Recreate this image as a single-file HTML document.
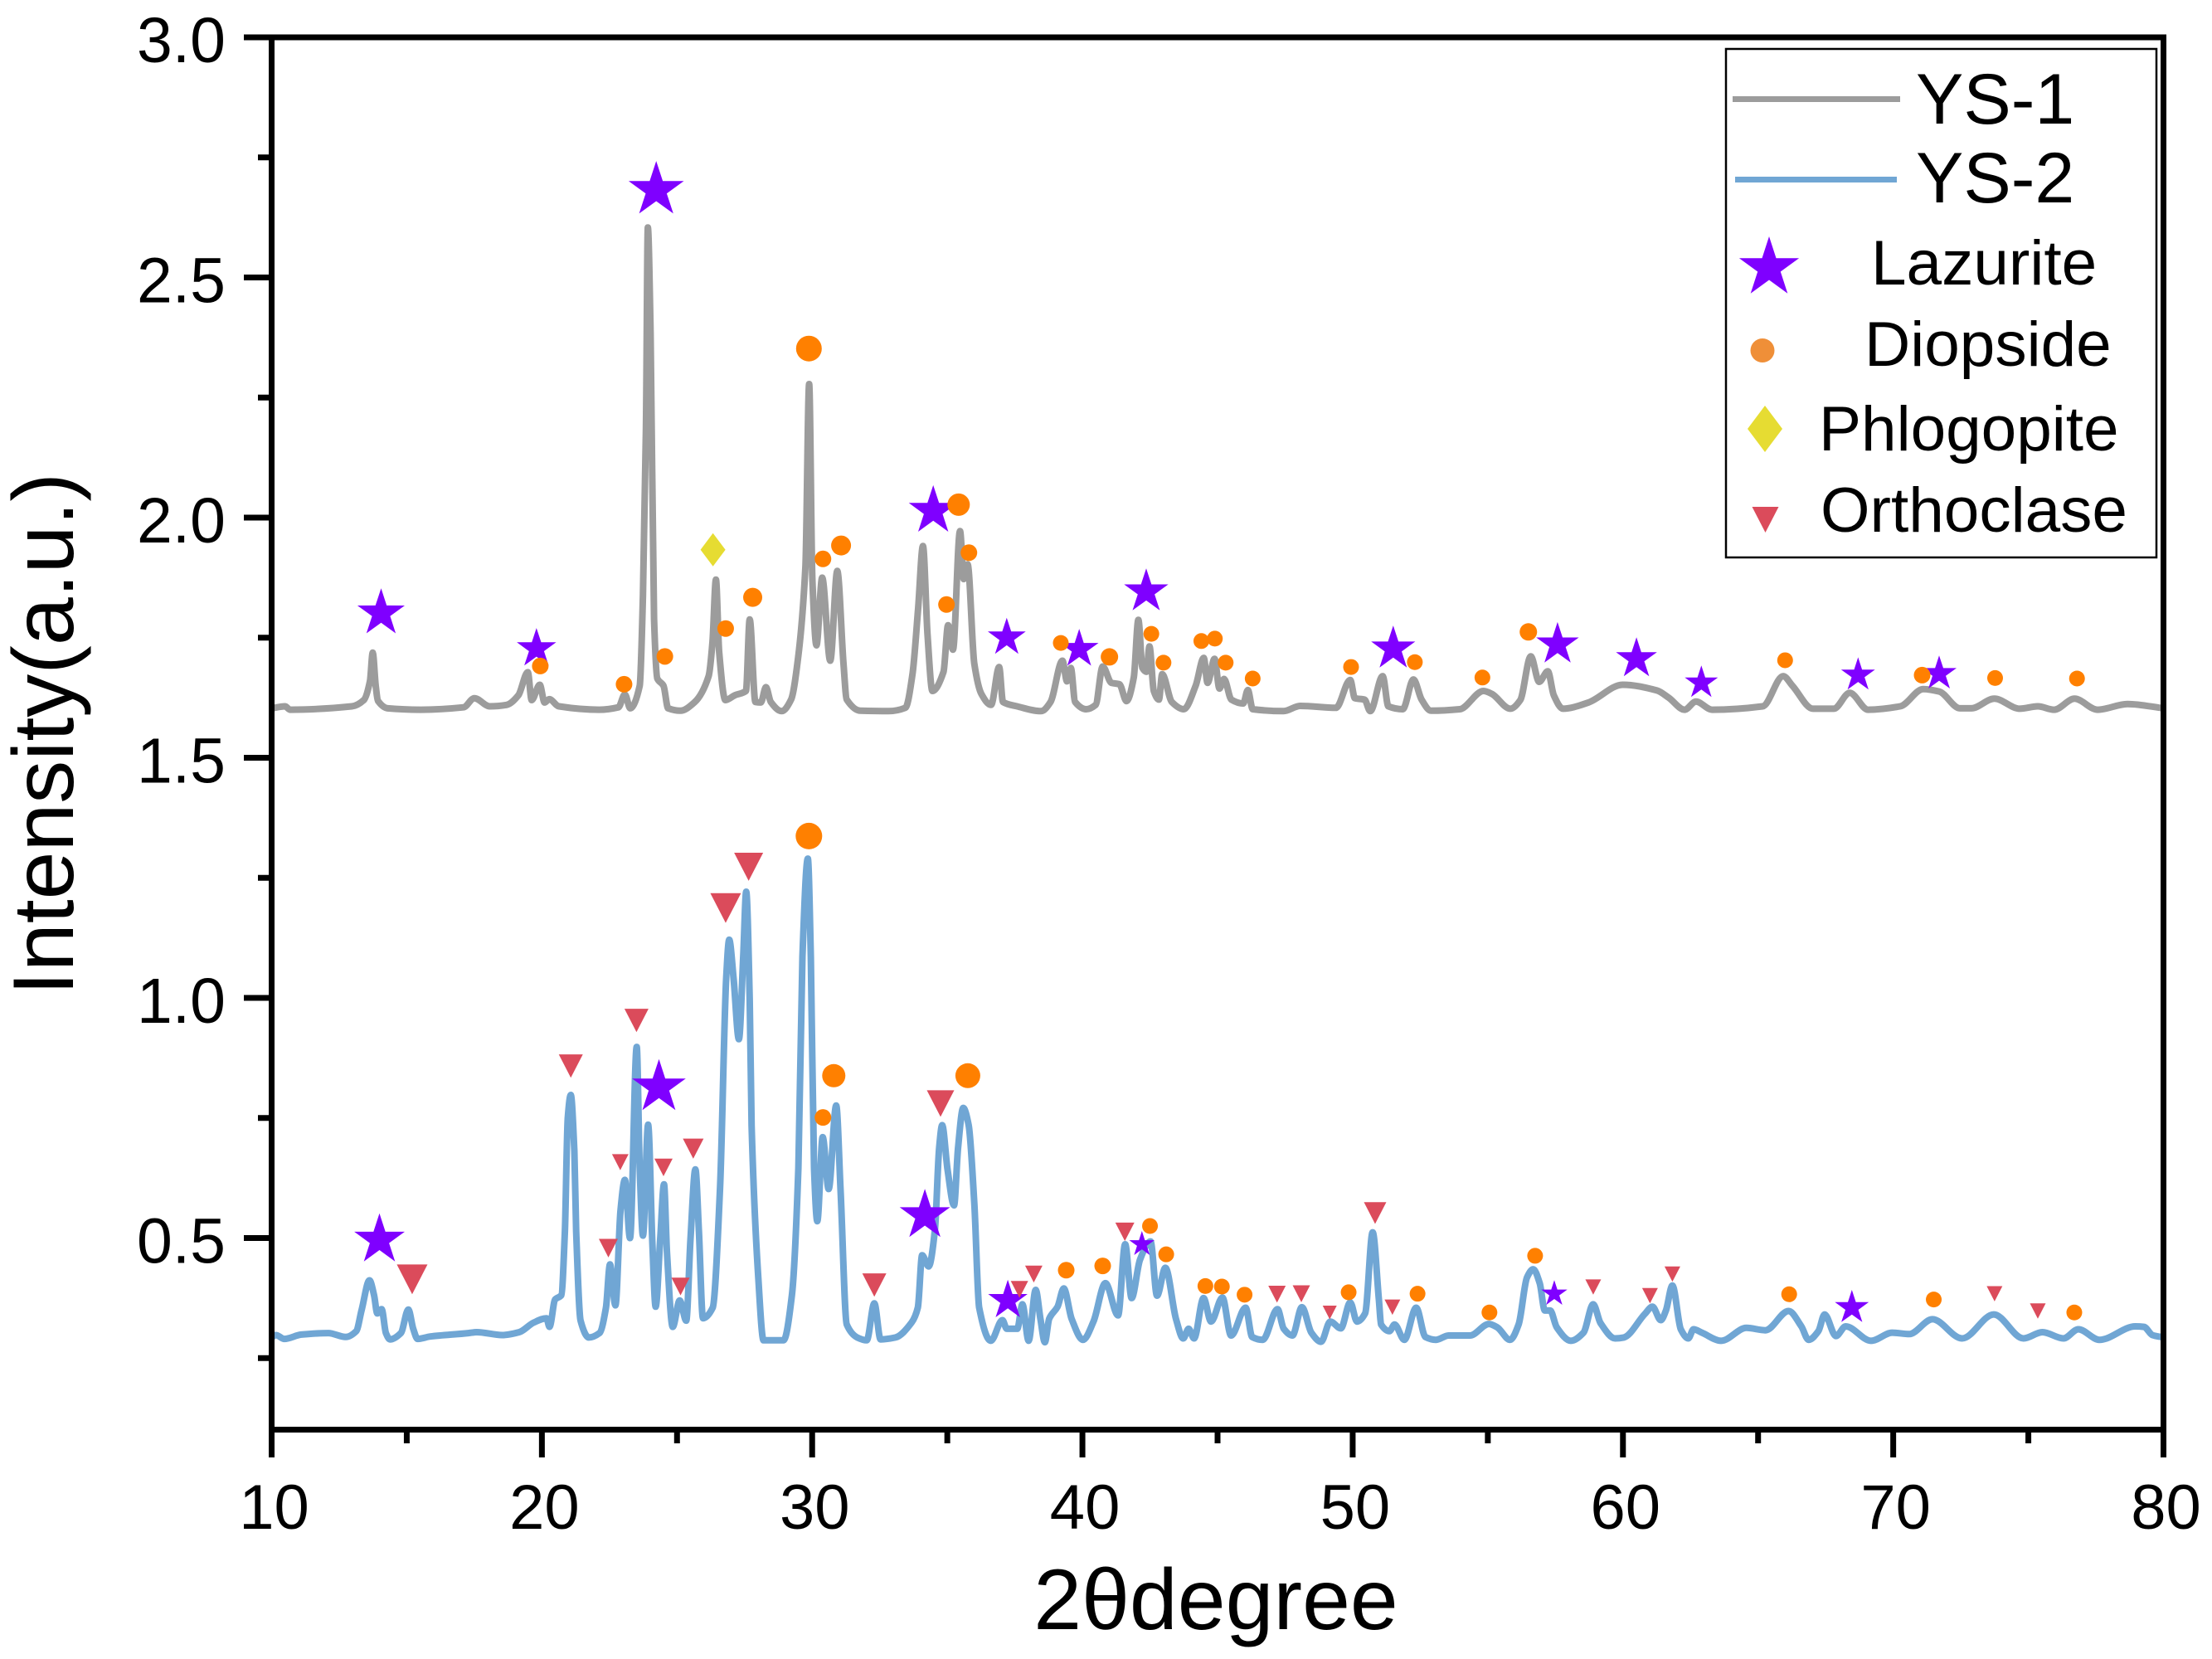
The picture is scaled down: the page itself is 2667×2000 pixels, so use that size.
<!DOCTYPE html>
<html lang="en">
<head>
<meta charset="utf-8">
<title>XRD patterns of YS-1 and YS-2</title>
<style>
html,body{margin:0;padding:0;background:#fff;}
svg{display:block;}
text{font-family:"Liberation Sans",Arial,sans-serif;fill:#000;}
</style>
</head>
<body>
<svg id="chart" xmlns="http://www.w3.org/2000/svg" width="2667" height="2000" viewBox="0 0 2667 2000">
  <rect x="0" y="0" width="2667" height="2000" fill="#fff"/>
  <g id="series"></g>
  <g id="markers"></g>
  <g id="axes"></g>
  <text x="1466" y="1964" font-size="104" text-anchor="middle">2θdegree</text>
  <text transform="translate(88,885) rotate(-90)" font-size="104" text-anchor="middle">Intensity(a.u.)</text>
  <g>
    <rect x="2081" y="59" width="519" height="613" fill="#fff" stroke="#000" stroke-width="2.5"/>
    <g>
      <rect x="2089" y="116" width="202" height="7" fill="#9c9c9c"/>
      <text x="2310" y="149" font-size="86">YS-1</text>
    </g>
    <g>
      <rect x="2092" y="213" width="195" height="7" fill="#70a6d4"/>
      <text x="2310" y="244" font-size="86">YS-2</text>
    </g>
    <g>
      <polygon id="legend-star" fill="#7f00ff" points=""/>
      <text x="2256" y="343" font-size="76.5">Lazurite</text>
    </g>
    <g>
      <circle cx="2125" cy="422.5" r="14.5" fill="#ef8f38"/>
      <text x="2248" y="441" font-size="76.5">Diopside</text>
    </g>
    <g>
      <polygon points="2128,489 2149,517 2128,545 2107,517" fill="#e6dc32"/>
      <text x="2193" y="543" font-size="76.5">Phlogopite</text>
    </g>
    <g>
      <polygon points="2112.5,611 2144.5,611 2128.5,642" fill="#db4b5b"/>
      <text x="2195" y="641" font-size="76.5">Orthoclase</text>
    </g>
  </g>
</svg>
<script>
const ys1Theta = [10,10.5,10.68,12.97,13.41,13.64,13.74,13.85,13.94,14.29,15.5,17.1,17.5,18.07,18.69,19.13,19.48,19.62,19.92,20.1,20.27,20.63,22.12,22.83,23.07,23.27,23.62,23.74,23.85,23.92,24.02,24.15,24.27,24.5,24.67,25.12,25.64,26.17,26.31,26.44,26.56,26.79,27.14,27.55,27.69,27.9,28.1,28.29,28.47,28.87,29.22,29.49,29.75,29.89,30.01,30.16,30.37,30.67,30.93,31.16,31.28,31.78,32.83,33.45,33.71,33.92,34.1,34.27,34.45,34.86,35.03,35.21,35.47,35.61,35.75,36,36.26,36.62,36.92,37.06,37.58,38.47,38.82,39.26,39.43,39.57,39.73,40.14,40.49,40.75,41.07,41.37,41.63,41.9,42.07,42.22,42.37,42.48,42.64,42.83,42.95,43.31,43.75,44.19,44.49,44.63,44.89,45.07,45.24,45.51,45.95,46.12,46.3,47.44,48.06,49.38,49.91,50.08,50.44,50.65,51.11,51.32,51.85,52.25,52.55,52.9,53.96,54.84,55.15,55.83,56.2,56.59,56.9,57.22,57.44,57.78,58.72,59.99,61.26,61.69,62.28,62.7,63.3,65.17,65.93,66.27,67.03,67.8,68.39,69.07,70.26,71.11,71.7,72.47,72.89,73.74,74.68,75.35,75.95,76.71,77.56,78.67,80];
const ys1Intensity = [1.603,1.607,1.6,1.607,1.62,1.66,1.719,1.65,1.618,1.603,1.6,1.605,1.624,1.607,1.61,1.63,1.678,1.62,1.652,1.615,1.622,1.607,1.6,1.605,1.632,1.603,1.65,1.838,2.185,2.604,2.384,1.789,1.665,1.65,1.603,1.598,1.615,1.67,1.74,1.871,1.72,1.62,1.63,1.639,1.788,1.616,1.615,1.647,1.616,1.597,1.621,1.713,1.898,2.278,1.869,1.734,1.875,1.702,1.889,1.696,1.621,1.598,1.597,1.604,1.673,1.811,1.941,1.754,1.639,1.679,1.776,1.725,1.972,1.872,1.903,1.696,1.633,1.61,1.689,1.616,1.607,1.597,1.616,1.702,1.659,1.687,1.616,1.601,1.61,1.69,1.656,1.653,1.618,1.667,1.787,1.687,1.679,1.732,1.639,1.621,1.674,1.616,1.601,1.65,1.708,1.656,1.706,1.644,1.664,1.621,1.613,1.641,1.601,1.597,1.608,1.604,1.662,1.624,1.621,1.597,1.67,1.607,1.601,1.663,1.621,1.598,1.601,1.639,1.633,1.602,1.62,1.711,1.658,1.68,1.63,1.602,1.615,1.652,1.64,1.625,1.6,1.617,1.6,1.607,1.67,1.65,1.602,1.602,1.635,1.6,1.607,1.643,1.638,1.603,1.603,1.623,1.602,1.607,1.6,1.623,1.6,1.612,1.603];

const ys2Theta = [10,10.16,10.47,11.1,12.1,12.74,13.13,13.33,13.62,13.79,13.91,14.07,14.23,14.38,14.78,15.06,15.24,15.4,15.87,17.28,17.59,18.53,19.16,19.7,20.17,20.28,20.49,20.72,20.85,20.96,21.07,21.2,21.27,21.43,21.74,22.13,22.37,22.52,22.72,22.91,23.07,23.26,23.51,23.62,23.74,23.93,24.09,24.21,24.38,24.52,24.63,24.84,25.1,25.34,25.5,25.68,25.81,25.96,26.32,26.59,26.82,26.93,27.09,27.29,27.45,27.56,27.69,27.76,28,28.2,28.94,29.25,29.49,29.64,29.84,29.95,30.07,30.19,30.39,30.61,30.89,31.05,31.28,31.67,32.02,32.3,32.53,33.08,33.68,33.91,34.07,34.31,34.54,34.7,34.81,35.01,35.25,35.4,35.59,35.79,36,36.18,36.61,37.04,37.2,37.59,37.78,38.01,38.27,38.45,38.61,38.77,39.08,39.31,39.6,40.02,40.41,40.85,41.32,41.58,41.82,42.13,42.52,42.76,43.07,43.46,43.73,43.93,44.13,44.48,44.76,45.18,45.5,46.04,46.28,46.67,47.22,47.45,47.77,48.12,48.47,48.83,49.17,49.56,49.91,50.16,50.46,50.74,50.97,51.05,51.36,51.55,51.91,52.35,52.69,53.08,53.55,54.34,55.04,55.35,55.82,56.14,56.45,56.68,56.92,57.11,57.31,57.55,58.07,58.54,58.9,59.17,59.71,60.03,60.81,61.09,61.4,61.59,61.83,62.14,62.42,62.61,62.92,63.63,64.57,65.27,66.13,66.6,66.87,67.23,67.46,67.88,68.24,69.18,69.96,70.59,71.45,72.55,73.72,74.82,75.52,76.3,76.85,77.63,78.96,79.28,79.59,80];
const ys2Intensity = [0.293,0.298,0.29,0.299,0.302,0.294,0.306,0.35,0.412,0.381,0.343,0.352,0.302,0.289,0.302,0.351,0.311,0.29,0.295,0.302,0.304,0.298,0.304,0.324,0.333,0.315,0.372,0.381,0.514,0.751,0.798,0.681,0.513,0.328,0.293,0.302,0.355,0.445,0.36,0.558,0.621,0.5,0.898,0.646,0.505,0.736,0.487,0.357,0.5,0.612,0.469,0.315,0.37,0.328,0.5,0.643,0.513,0.333,0.355,0.602,1.042,1.121,1.042,0.914,1.086,1.221,0.998,0.734,0.425,0.287,0.287,0.381,0.646,1.086,1.29,1.086,0.646,0.535,0.71,0.602,0.776,0.602,0.32,0.293,0.287,0.364,0.289,0.293,0.324,0.355,0.464,0.441,0.516,0.689,0.735,0.642,0.568,0.689,0.771,0.735,0.573,0.355,0.286,0.329,0.311,0.311,0.362,0.286,0.392,0.33,0.283,0.332,0.357,0.395,0.332,0.288,0.326,0.406,0.339,0.487,0.375,0.455,0.493,0.38,0.438,0.332,0.291,0.311,0.291,0.375,0.326,0.376,0.297,0.355,0.294,0.288,0.352,0.311,0.297,0.356,0.303,0.284,0.326,0.312,0.366,0.326,0.343,0.512,0.372,0.32,0.306,0.32,0.288,0.355,0.294,0.288,0.297,0.297,0.321,0.314,0.288,0.32,0.418,0.435,0.406,0.349,0.349,0.314,0.286,0.303,0.362,0.323,0.291,0.293,0.342,0.357,0.329,0.349,0.401,0.31,0.291,0.31,0.303,0.286,0.313,0.308,0.348,0.316,0.288,0.306,0.341,0.296,0.316,0.286,0.303,0.3,0.331,0.291,0.341,0.291,0.304,0.291,0.31,0.288,0.316,0.315,0.298,0.293];

const lazuriteTheta = [14.05,19.8,24.23,34.48,37.2,39.88,42.36,51.5,57.58,60.5,62.9,68.7,71.7,13.99,24.33,34.17,37.24,42.2,57.46,68.47];
const lazuriteIntensity = [1.801,1.727,2.682,2.014,1.75,1.726,1.846,1.727,1.736,1.706,1.656,1.672,1.675,0.496,0.814,0.547,0.37,0.487,0.384,0.355];
const diopsideTheta = [19.94,23.04,24.55,26.8,27.8,29.88,30.4,31.07,35.42,34.97,35.8,39.2,41,42.55,43,44.4,44.9,45.3,46.3,49.94,52.3,54.8,56.5,66,71.07,73.77,76.8,29.88,30.8,30.4,35.76,42.5,43.1,39.4,40.75,44.55,45.16,46,49.85,52.4,55.06,56.75,66.15,71.5,76.7];
const diopsideIntensity = [1.691,1.653,1.711,1.769,1.834,2.352,1.914,1.942,2.027,1.819,1.927,1.739,1.71,1.758,1.698,1.743,1.748,1.698,1.665,1.689,1.699,1.667,1.762,1.703,1.672,1.666,1.665,1.337,0.838,0.751,0.838,0.525,0.466,0.433,0.442,0.4,0.399,0.382,0.387,0.384,0.345,0.463,0.383,0.372,0.345];
const phlogopiteTheta = [26.33];
const phlogopiteIntensity = [1.933];
const orthoclaseTheta = [21.07,15.2,22.46,22.9,23.5,24.5,25.13,25.6,26.8,27.65,32.3,34.75,37.67,38.2,41.57,47.2,48.1,49.15,50.83,51.47,58.9,61,61.83,73.75,75.35];
const orthoclaseIntensity = [0.858,0.414,0.479,0.658,0.953,0.647,0.399,0.686,1.187,1.273,0.402,0.78,0.393,0.425,0.513,0.383,0.384,0.345,0.552,0.356,0.398,0.38,0.425,0.384,0.348];

const xTickLabels = ['10','20','30','40','50','60','70','80'];
const xTickValues = [10,20,30,40,50,60,70,80];
const xMinorValues = [15,25,35,45,55,65,75];
const yTickLabels = ['0.5','1.0','1.5','2.0','2.5','3.0'];
const yTickValues = [0.5,1,1.5,2,2.5,3];
const yMinorValues = [0.25,0.75,1.25,1.75,2.25,2.75];

/* Marker drawing sizes (pixels), kept apart from the data above */
const starRadius = [30,25,35,31,24,24.5,28,28,27,26,21,21.5,22,32,34,32,25,16,16.5,21.5];
const dotRadius = [10,10,10,10,11.5,15.5,10,12,13.5,10,10,9.5,10.5,9.5,9.5,9.5,9.5,9.5,9.5,9.5,9.5,9.5,10.5,9.5,10,9.5,9.5,16,14,10,15,9.5,9.5,10,10,9.5,9.5,9.5,9.5,9.5,9.5,9.5,9.5,9.5,9.5];
const triangleHalf = [14.5,18.5,11.5,10,14.5,11,11,12.5,18.5,17.5,14.5,16.5,10.5,10.5,11.5,10.5,10.5,8.5,13.5,9.5,9.5,9.5,9.5,9.5,9.5];

const NS = 'http://www.w3.org/2000/svg';
const xScale = v => 327.5 + (v - 10) * (2608.5 - 327.5) / 70;
const yScale = v => 45 + (3 - v) * 579;
const seriesLayer = document.getElementById('series');
const markerLayer = document.getElementById('markers');
const axesLayer = document.getElementById('axes');

function make(tag, attrs, parent) {
  const el = document.createElementNS(NS, tag);
  for (const k in attrs) el.setAttribute(k, attrs[k]);
  parent.appendChild(el);
  return el;
}

function smoothPath(xs, ys) {
  const px = xs.map(xScale), py = ys.map(yScale), n = px.length;
  const d = [], m = [];
  for (let i = 0; i < n - 1; i++) d.push((py[i + 1] - py[i]) / (px[i + 1] - px[i]));
  m[0] = d[0]; m[n - 1] = d[n - 2];
  for (let i = 1; i < n - 1; i++) m[i] = d[i - 1] * d[i] <= 0 ? 0 : 2 * d[i - 1] * d[i] / (d[i - 1] + d[i]);
  let s = 'M' + px[0].toFixed(1) + ' ' + py[0].toFixed(1);
  for (let i = 0; i < n - 1; i++) {
    const h = (px[i + 1] - px[i]) / 3;
    s += 'C' + (px[i] + h).toFixed(1) + ' ' + (py[i] + m[i] * h).toFixed(1) + ' ' +
      (px[i + 1] - h).toFixed(1) + ' ' + (py[i + 1] - m[i + 1] * h).toFixed(1) + ' ' +
      px[i + 1].toFixed(1) + ' ' + py[i + 1].toFixed(1);
  }
  return s;
}

function starPoints(cx, cy, R) {
  const r = R * 0.382, out = [];
  for (let i = 0; i < 10; i++) {
    const a = -Math.PI / 2 + i * Math.PI / 5, q = i % 2 ? r : R;
    out.push((cx + q * Math.cos(a)).toFixed(1) + ',' + (cy + q * Math.sin(a)).toFixed(1));
  }
  return out.join(' ');
}

/* series */
const lineA = make('path', {d: smoothPath(ys1Theta, ys1Intensity), fill: 'none', stroke: '#9c9c9c', 'stroke-width': 8, 'stroke-linejoin': 'round', 'stroke-linecap': 'butt'}, seriesLayer);


const lineB = make('path', {d: smoothPath(ys2Theta, ys2Intensity), fill: 'none', stroke: '#70a6d4', 'stroke-width': 8, 'stroke-linejoin': 'round', 'stroke-linecap': 'butt'}, seriesLayer);



/* markers */
lazuriteTheta.forEach((t, i) => {
  const el = make('polygon', {points: starPoints(xScale(t), yScale(lazuriteIntensity[i]), starRadius[i]), fill: '#7f00ff'}, markerLayer);
  
  
});
orthoclaseTheta.forEach((t, i) => {
  const cx = xScale(t), cy = yScale(orthoclaseIntensity[i]), w = triangleHalf[i], h = w * 0.97;
  const el = make('polygon', {points: (cx - w) + ',' + (cy - h) + ' ' + (cx + w) + ',' + (cy - h) + ' ' + cx + ',' + (cy + h), fill: '#db4b5b'}, markerLayer);
  
  
});
phlogopiteTheta.forEach((t, i) => {
  const cx = xScale(t), cy = yScale(phlogopiteIntensity[i]);
  const el = make('polygon', {points: cx + ',' + (cy - 20) + ' ' + (cx + 15) + ',' + cy + ' ' + cx + ',' + (cy + 20) + ' ' + (cx - 15) + ',' + cy, fill: '#e6dc32'}, markerLayer);
  
  
});
diopsideTheta.forEach((t, i) => {
  const el = make('circle', {cx: xScale(t), cy: yScale(diopsideIntensity[i]), r: dotRadius[i], fill: '#ff8000'}, markerLayer);
  
  
});

/* axes frame */
const frame = make('rect', {x: 327.5, y: 45, width: 2281, height: 1678.5, fill: 'none', stroke: '#000', 'stroke-width': 7}, axesLayer);



/* x ticks */
xTickValues.forEach((v, i) => {
  const x = xScale(v);
  const tick = make('rect', {x: x - 3.5, y: 1720, width: 7, height: 37, fill: '#000'}, axesLayer);
  
  
  const label = make('text', {x: x + 3, y: 1843, 'font-size': 76, 'text-anchor': 'middle'}, axesLayer);
  
  
  label.textContent = xTickLabels[i];
});
xMinorValues.forEach(v => {
  const tick = make('rect', {x: xScale(v) - 3.5, y: 1720, width: 7, height: 20, fill: '#000'}, axesLayer);
  
  
});

/* y ticks */
yTickValues.forEach((v, i) => {
  const y = yScale(v);
  const tick = make('rect', {x: 294, y: y - 3.5, width: 34, height: 7, fill: '#000'}, axesLayer);
  
  
  const label = make('text', {x: 272, y: y + 30, 'font-size': 77, 'text-anchor': 'end'}, axesLayer);
  
  
  label.textContent = yTickLabels[i];
});
yMinorValues.forEach(v => {
  const tick = make('rect', {x: 311, y: yScale(v) - 3.5, width: 17, height: 7, fill: '#000'}, axesLayer);
  
  
});

document.getElementById('legend-star').setAttribute('points', starPoints(2133, 323, 38));
</script>
</body>
</html>
